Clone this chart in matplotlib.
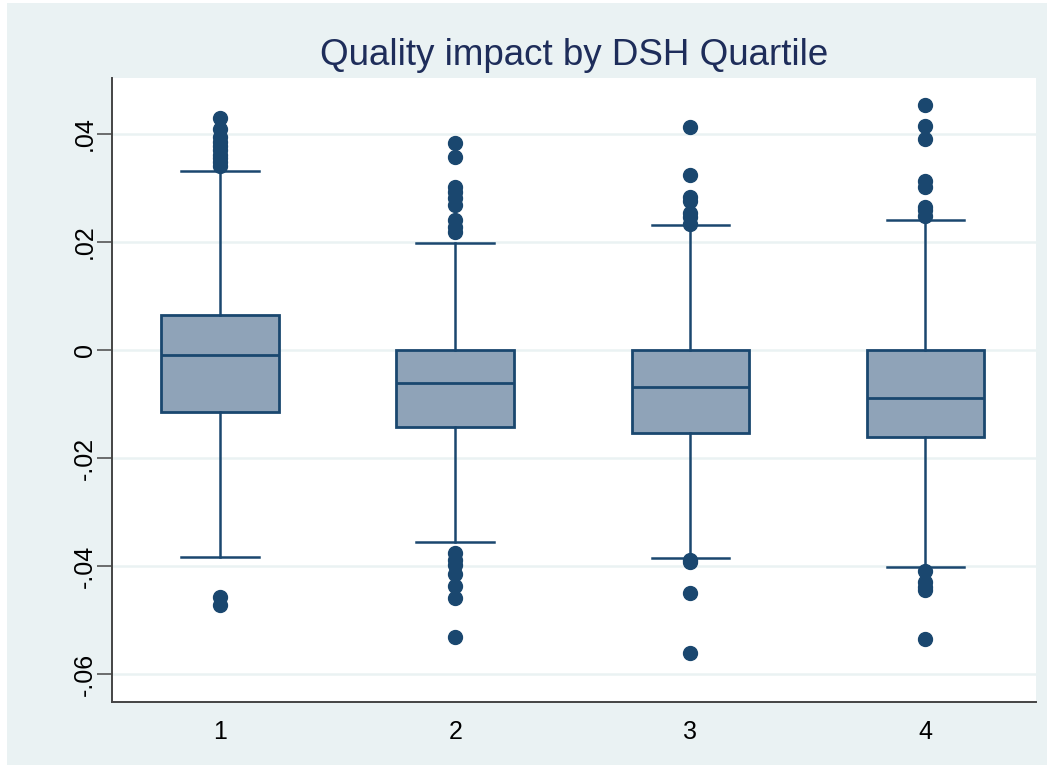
import matplotlib
matplotlib.use("Agg")
import matplotlib.pyplot as plt
from matplotlib.patches import Rectangle

# quartile groups and box statistics
groups = [1, 2, 3, 4]
q1 = [-0.0115, -0.0143, -0.0154, -0.0161]
med = [-0.0009, -0.0061, -0.0069, -0.0089]
q3 = [0.0065, 0.0, 0.0, 0.0]
whis_lo = [-0.0383, -0.0356, -0.0385, -0.0402]
whis_hi = [0.0331, 0.0198, 0.0231, 0.0241]

# outside values
fliers_1 = [0.0430, 0.0410, 0.0394, 0.0385, 0.0378, 0.0370, 0.0362, 0.0355,
            0.0348, 0.0340, -0.0457, -0.0472]
fliers_2 = [0.0383, 0.0357, 0.0302, 0.0293, 0.0281, 0.0269, 0.0241, 0.0228,
            0.0219, -0.0376, -0.0389, -0.0398, -0.0415, -0.0437, -0.0459, -0.0531]
fliers_3 = [0.0413, 0.0324, 0.0283, 0.0276, 0.0254, 0.0246, 0.0233,
            -0.0389, -0.0393, -0.0450, -0.0561]
fliers_4 = [0.0454, 0.0415, 0.0391, 0.0313, 0.0302, 0.0265, 0.0259, 0.0248,
            -0.0409, -0.0430, -0.0439, -0.0444, -0.0535]
fliers = [fliers_1, fliers_2, fliers_3, fliers_4]

yticks = [-0.06, -0.04, -0.02, 0, 0.02, 0.04]
ytick_labels = ["-.06", "-.04", "-.02", "0", ".02", ".04"]

navy = "#1a476f"
bg = "#eaf2f3"

plt.rcParams['font.family'] = ['Liberation Sans', 'DejaVu Sans']

fig = plt.figure(figsize=(10.53, 7.7), dpi=100)
fig.patch.set_facecolor("white")
fig.patches.append(Rectangle((7 / 1053, 5 / 770), 1040 / 1053, 762 / 770,
                             transform=fig.transFigure, facecolor=bg,
                             edgecolor="none", zorder=-10))

ax = fig.add_axes([112 / 1053, 68 / 770, 924 / 1053, 624 / 770])
ax.set_facecolor("white")

stats = []
for i in range(len(groups)):
    stats.append(dict(med=med[i], q1=q1[i], q3=q3[i], whislo=whis_lo[i],
                      whishi=whis_hi[i], fliers=fliers[i], label=str(groups[i])))

ax.bxp(stats, positions=groups, widths=0.5, patch_artist=True,
       boxprops=dict(facecolor="#8fa3b8", edgecolor=navy, linewidth=2.0),
       medianprops=dict(color=navy, linewidth=2.0),
       whiskerprops=dict(color=navy, linewidth=1.8),
       capprops=dict(color=navy, linewidth=1.8),
       capwidths=0.33,
       flierprops=dict(marker="o", markersize=10, markerfacecolor=navy,
                       markeredgecolor=navy))

ax.set_xlim(0.54, 4.47)
ax.set_ylim(-0.06519, 0.05037)
ax.set_yticks(yticks)
ax.set_yticklabels(ytick_labels, rotation=90, va="center")
ax.set_xticks(groups)
ax.set_xticklabels([str(g) for g in groups])
ax.tick_params(axis="y", length=11, width=1.2, color="#555555", labelsize=18, pad=0)
ax.tick_params(axis="x", length=0, labelsize=18, pad=13)
ax.yaxis.grid(True, color=bg, linewidth=1.8)
ax.set_axisbelow(True)

for side in ["top", "right"]:
    ax.spines[side].set_visible(False)
for side in ["left", "bottom"]:
    ax.spines[side].set_color("#444444")
    ax.spines[side].set_linewidth(1.4)

ax.set_title("Quality impact by DSH Quartile", fontsize=26.5, color="#1e2d5a", pad=9)

fig.savefig("out.png", dpi=100, facecolor=fig.get_facecolor())
